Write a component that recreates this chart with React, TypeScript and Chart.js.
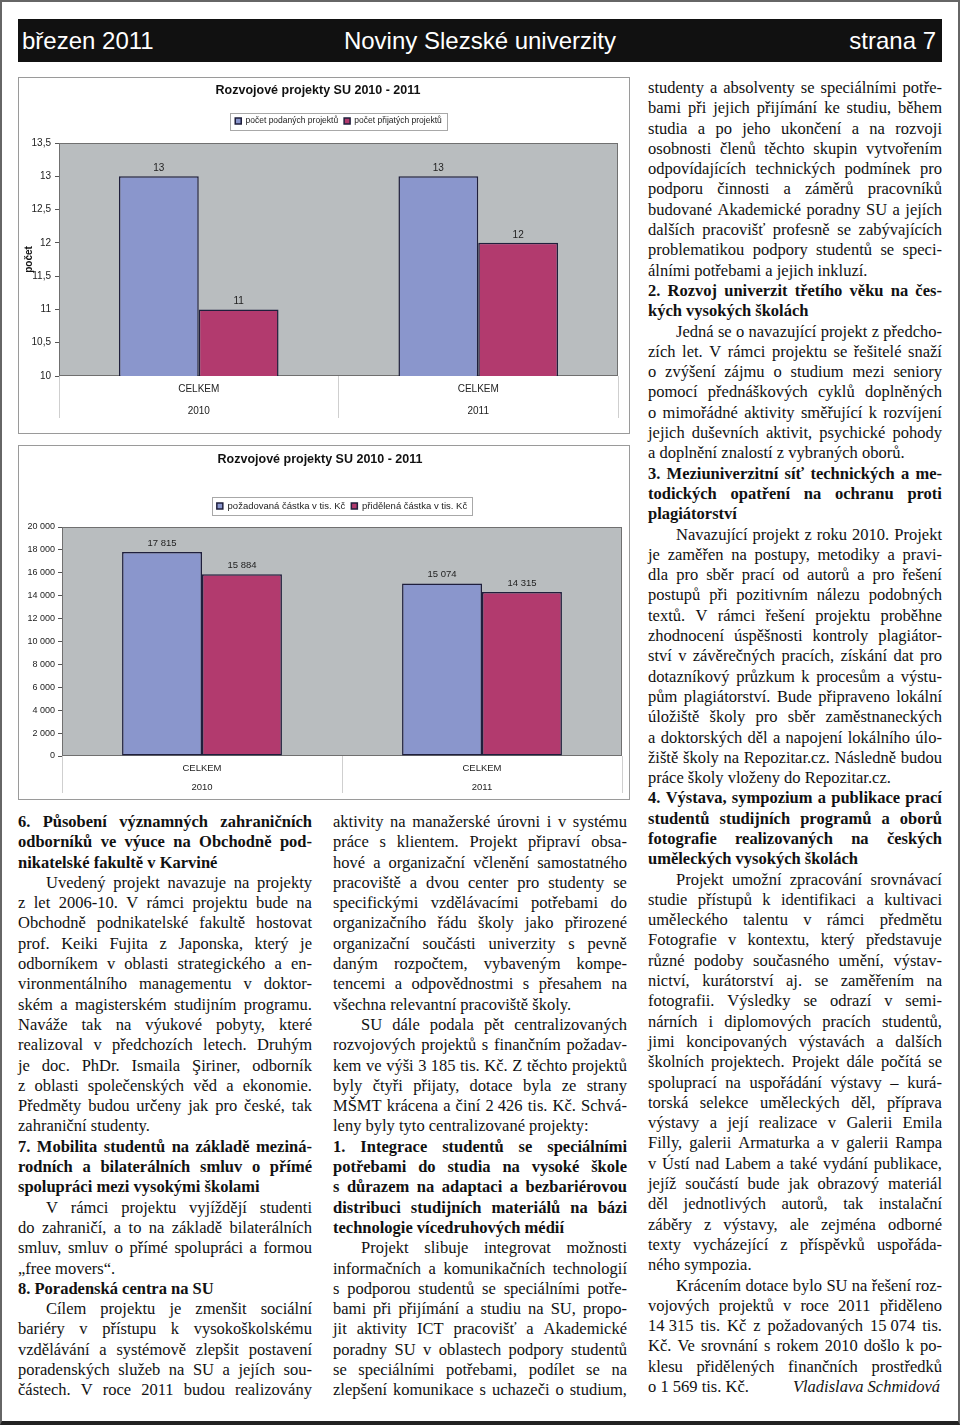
import React, { useEffect, useRef } from 'react';
import { Chart, registerables } from 'chart.js';

Chart.register(...registerables);

// ---------------- chart data ----------------
const categoryLabels = ['CELKEM', 'CELKEM'];
const yearLabels = ['2010', '2011'];

const chartTitle = 'Rozvojové projekty SU 2010 - 2011';

const countSeriesNames = ['počet podaných projektů', 'počet přijatých projektů'];
const submittedCounts = [13, 13];
const acceptedCounts = [11, 12];
const countTickLabels = ['10', '10,5', '11', '11,5', '12', '12,5', '13', '13,5'];
const countAxisTitle = 'počet';

const amountSeriesNames = ['požadovaná částka v tis. Kč', 'přidělená částka v tis. Kč'];
const requestedAmounts = [17815, 15074];
const allocatedAmounts = [15884, 14315];
const amountTickLabels = ['0', '2 000', '4 000', '6 000', '8 000', '10 000', '12 000', '14 000', '16 000', '18 000', '20 000'];

// ---------------- styles ----------------
const SANS = '"Liberation Sans", Arial, Helvetica, sans-serif';
const SERIF = '"Liberation Serif", "Times New Roman", Times, serif';
const BLUE = '#8a96cc';
const RED = '#b23a6e';
const EDGE = '#1f1f3c';
const PLOT_BG = '#b9bdbf';

const withSpaces = (v: number) => String(v).replace(/\B(?=(\d{3})+(?!\d))/g, ' ');

type Spec = {
  width: number; height: number;
  titlePadTop: number; titlePadBottom: number;
  legendCenterY: number; legendPad: number; legendFont: number;
  names: string[]; a: number[]; b: number[];
  yMin: number; yMax: number; yStep: number; yTicks: string[]; yFont: number; yTickPad: number;
  yWidth: number; yTitle?: string;
  padRight: number;
  xHeight: number; xTick: number; xPad: number; xFont: number; xLine: number;
  labelFont: number; labelOffset: number; fmt: (v: number) => string;
};

function buildConfig(s: Spec): any {
  const look = {
    id: 'excelLook',
    afterUpdate(chart: any) {
      const lg = chart.legend;
      if (!lg) return;
      const ca = chart.chartArea;
      const H = Math.max(s.legendFont, 6);
      const dy = s.legendCenterY - (lg.top + s.legendPad + H / 2);
      lg.top += dy;
      lg.bottom += dy;
      lg.left = ca.left;
      lg.right = ca.right;
      lg.width = ca.right - ca.left;
    },
    beforeDraw(chart: any) {
      const { ctx, width, height, chartArea: ca } = chart;
      ctx.save();
      ctx.fillStyle = '#ffffff';
      ctx.fillRect(0, 0, width, height);
      ctx.fillStyle = PLOT_BG;
      ctx.fillRect(ca.left, ca.top, ca.right - ca.left, ca.bottom - ca.top);
      ctx.strokeStyle = '#9a9a9a';
      ctx.lineWidth = 1;
      ctx.strokeRect(0.5, 0.5, width - 1, height - 1);
      ctx.restore();
    },
    beforeDatasetsDraw(chart: any) {
      const { ctx, chartArea: ca } = chart;
      ctx.save();
      ctx.strokeStyle = '#707070';
      ctx.lineWidth = 1;
      ctx.strokeRect(Math.round(ca.left) + 0.5, Math.round(ca.top) + 0.5, Math.round(ca.right - ca.left) - 1, Math.round(ca.bottom - ca.top) - 1);
      ctx.restore();
    },
    afterDatasetsDraw(chart: any) {
      const { ctx } = chart;
      ctx.save();
      ctx.fillStyle = '#222';
      ctx.font = `${s.labelFont}px ${SANS}`;
      ctx.textAlign = 'center';
      ctx.textBaseline = 'middle';
      chart.data.datasets.forEach((ds: any, di: number) => {
        const meta = chart.getDatasetMeta(di);
        meta.data.forEach((el: any, k: number) => {
          const { x, y } = el.getProps(['x', 'y'], true);
          ctx.fillText(s.fmt(ds.data[k]), x, y - s.labelOffset);
        });
      });
      ctx.restore();
    },
    afterDraw(chart: any) {
      const lg = chart.legend;
      if (!lg || !lg.lineWidths) return;
      const { ctx } = chart;
      const H = Math.max(s.legendFont, 6);
      const T = lg.lineWidths[0] - s.legendPad;
      const cx = (lg.left + lg.right) / 2;
      const y0 = lg.top + s.legendPad;
      ctx.save();
      ctx.strokeStyle = '#a8a8a8';
      ctx.lineWidth = 1;
      ctx.strokeRect(Math.round(cx - T / 2 - 5) + 0.5, Math.round(y0 - 4) + 0.5, Math.round(T + 10), Math.round(H + 8));
      ctx.restore();
    },
  };

  return {
    type: 'bar',
    data: {
      labels: categoryLabels.map((c, i) => [c, yearLabels[i]]),
      datasets: [
        { label: s.names[0], data: s.a, backgroundColor: BLUE, borderColor: EDGE, borderWidth: 1.5, borderSkipped: false },
        { label: s.names[1], data: s.b, backgroundColor: RED, borderColor: EDGE, borderWidth: 1.5, borderSkipped: false },
      ],
    },
    plugins: [look],
    options: {
      responsive: false,
      animation: false,
      devicePixelRatio: 1,
      events: [],
      layout: { padding: { left: 0, right: s.padRight, top: 0, bottom: 0 } },
      datasets: { bar: { categoryPercentage: 0.571, barPercentage: 1 } },
      plugins: {
        title: {
          display: true,
          text: chartTitle,
          color: '#111',
          font: { family: SANS, size: 12.5, weight: 'bold', lineHeight: 1.2 },
          padding: { top: s.titlePadTop, bottom: s.titlePadBottom },
        },
        legend: {
          display: true,
          position: 'top',
          labels: {
            boxWidth: 6,
            boxHeight: 6,
            padding: s.legendPad,
            color: '#222',
            font: { family: SANS, size: s.legendFont },
          },
        },
        tooltip: { enabled: false },
      },
      scales: {
        x: {
          type: 'category',
          offset: true,
          grid: { offset: true, drawOnChartArea: false, drawTicks: true, tickLength: s.xTick, color: '#cfcfcf', lineWidth: 1 },
          border: { display: false },
          ticks: {
            autoSkip: false,
            maxRotation: 0,
            minRotation: 0,
            padding: s.xPad,
            color: '#222',
            font: { family: SANS, size: s.xFont, lineHeight: s.xLine / s.xFont },
          },
          afterFit: (sc: any) => { sc.height = s.xHeight; },
        },
        y: {
          type: 'linear',
          min: s.yMin,
          max: s.yMax,
          grid: { drawOnChartArea: false, drawTicks: true, tickLength: 4, color: '#555' },
          border: { display: false },
          ticks: {
            stepSize: s.yStep,
            padding: s.yTickPad,
            color: '#222',
            font: { family: SANS, size: s.yFont },
            callback: (_v: any, i: number) => s.yTicks[i],
          },
          title: s.yTitle
            ? { display: true, text: s.yTitle, color: '#111', font: { family: SANS, size: 10, weight: 'bold', lineHeight: 1.2 }, padding: { top: 5, bottom: 0 } }
            : { display: false },
          afterFit: (sc: any) => { sc.width = s.yWidth; },
        },
      },
    },
  };
}

const countSpec: Spec = {
  width: 612, height: 357,
  titlePadTop: 6.5, titlePadBottom: 20,
  legendCenterY: 44, legendPad: 6, legendFont: 8.5,
  names: countSeriesNames, a: submittedCounts, b: acceptedCounts,
  yMin: 10, yMax: 13.5, yStep: 0.5, yTicks: countTickLabels, yFont: 10, yTickPad: 4,
  yWidth: 41, yTitle: countAxisTitle,
  padRight: 12,
  xHeight: 58, xTick: 42, xPad: -40, xFont: 10, xLine: 22,
  labelFont: 10, labelOffset: 8, fmt: (v) => String(v),
};

const amountSpec: Spec = {
  width: 612, height: 355,
  titlePadTop: 7.5, titlePadBottom: 34,
  legendCenterY: 61, legendPad: 6, legendFont: 9.5,
  names: amountSeriesNames, a: requestedAmounts, b: allocatedAmounts,
  yMin: 0, yMax: 20000, yStep: 2000, yTicks: amountTickLabels, yFont: 9, yTickPad: 3,
  yWidth: 44,
  padRight: 8,
  xHeight: 44, xTick: 37, xPad: -34.5, xFont: 9.5, xLine: 19,
  labelFont: 9.5, labelOffset: 9, fmt: withSpaces,
};

function ChartPanel({ spec, left, top }: { spec: Spec; left: number; top: number }) {
  const ref = useRef<HTMLCanvasElement>(null);
  useEffect(() => {
    const chart = new Chart(ref.current as HTMLCanvasElement, buildConfig(spec));
    return () => chart.destroy();
  }, [spec]);
  return (
    <canvas
      ref={ref}
      width={spec.width}
      height={spec.height}
      style={{ position: 'absolute', left, top, width: spec.width, height: spec.height }}
    />
  );
}

// ---------------- article text ----------------
type Ln = { t: string; b?: boolean; i?: boolean; last?: boolean; sig?: string };
const j = (t: string): Ln => ({ t });
const l = (t: string): Ln => ({ t, last: true });
const bj = (t: string): Ln => ({ t, b: true });
const bl = (t: string): Ln => ({ t, b: true, last: true });
const ij = (t: string): Ln => ({ t, i: true });

const leftLines: Ln[] = [
  bj('6. Působení významných zahraničních'),
  bj('odborníků ve výuce na Obchodně pod-'),
  bl('nikatelské fakultě v Karviné'),
  ij('Uvedený projekt navazuje na projekty'),
  j('z let 2006-10. V rámci projektu bude na'),
  j('Obchodně podnikatelské fakultě hostovat'),
  j('prof. Keiki Fujita z Japonska, který je'),
  j('odborníkem v oblasti strategického a en-'),
  j('vironmentálního managementu v doktor-'),
  j('ském a magisterském studijním programu.'),
  j('Naváže tak na výukové pobyty, které'),
  j('realizoval v předchozích letech. Druhým'),
  j('je doc. PhDr. Ismaila Şiriner, odborník'),
  j('z oblasti společenských věd a ekonomie.'),
  j('Předměty budou určeny jak pro české, tak'),
  l('zahraniční studenty.'),
  bj('7. Mobilita studentů na základě meziná-'),
  bj('rodních a bilaterálních smluv o přímé'),
  bl('spolupráci mezi vysokými školami'),
  ij('V rámci projektu vyjíždějí studenti'),
  j('do zahraničí, a to na základě bilaterálních'),
  j('smluv, smluv o přímé spolupráci a formou'),
  l('„free movers“.'),
  bl('8. Poradenská centra na SU'),
  ij('Cílem projektu je zmenšit sociální'),
  j('bariéry v přístupu k vysokoškolskému'),
  j('vzdělávání a systémově zlepšit postavení'),
  j('poradenských služeb na SU a jejích sou-'),
  j('částech. V roce 2011 budou realizovány'),
];

const middleLines: Ln[] = [
  j('aktivity na manažerské úrovni i v systému'),
  j('práce s klientem. Projekt připraví obsa-'),
  j('hové a organizační včlenění samostatného'),
  j('pracoviště a dvou center pro studenty se'),
  j('specifickými vzdělávacími potřebami do'),
  j('organizačního řádu školy jako přirozené'),
  j('organizační součásti univerzity s pevně'),
  j('daným rozpočtem, vybaveným kompe-'),
  j('tencemi a odpovědnostmi s přesahem na'),
  l('všechna relevantní pracoviště školy.'),
  ij('SU dále podala pět centralizovaných'),
  j('rozvojových projektů s finančním požadav-'),
  j('kem ve výši 3\u00a0185 tis. Kč. Z těchto projektů'),
  j('byly čtyři přijaty, dotace byla ze strany'),
  j('MŠMT krácena a činí 2\u00a0426 tis. Kč. Schvá-'),
  l('leny byly tyto centralizované projekty:'),
  bj('1. Integrace studentů se speciálními'),
  bj('potřebami do studia na vysoké škole'),
  bj('s důrazem na adaptaci a bezbariérovou'),
  bj('distribuci studijních materiálů na bázi'),
  bl('technologie vícedruhových médií'),
  ij('Projekt slibuje integrovat možnosti'),
  j('informačních a komunikačních technologií'),
  j('s podporou studentů se speciálními potře-'),
  j('bami při přijímání a studiu na SU, propo-'),
  j('jit aktivity ICT pracovišť a Akademické'),
  j('poradny SU v oblastech podpory studentů'),
  j('se speciálními potřebami, podílet se na'),
  j('zlepšení komunikace s uchazeči o studium,'),
];

const rightLines: Ln[] = [
  j('studenty a absolventy se speciálními potře-'),
  j('bami při jejich přijímání ke studiu, během'),
  j('studia a po jeho ukončení a na rozvoji'),
  j('osobnosti členů těchto skupin vytvořením'),
  j('odpovídajících technických podmínek pro'),
  j('podporu činnosti a záměrů pracovníků'),
  j('budované Akademické poradny SU a jejích'),
  j('dalších pracovišť profesně se zabývajících'),
  j('problematikou podpory studentů se speci-'),
  l('álními potřebami a jejich inkluzí.'),
  bj('2. Rozvoj univerzit třetího věku na čes-'),
  bl('kých vysokých školách'),
  ij('Jedná se o navazující projekt z předcho-'),
  j('zích let. V rámci projektu se řešitelé snaží'),
  j('o zvýšení zájmu o studium mezi seniory'),
  j('pomocí přednáškových cyklů doplněných'),
  j('o mimořádné aktivity směřující k rozvíjení'),
  j('jejich duševních aktivit, psychické pohody'),
  l('a doplnění znalostí z vybraných oborů.'),
  bj('3. Meziuniverzitní síť technických a me-'),
  bj('todických opatření na ochranu proti'),
  bl('plagiátorství'),
  ij('Navazující projekt z roku 2010. Projekt'),
  j('je zaměřen na postupy, metodiky a pravi-'),
  j('dla pro sběr prací od autorů a pro řešení'),
  j('postupů při pozitivním nálezu podobných'),
  j('textů. V rámci řešení projektu proběhne'),
  j('zhodnocení úspěšnosti kontroly plagiátor-'),
  j('ství v závěrečných pracích, získání dat pro'),
  j('dotazníkový průzkum k procesům a výstu-'),
  j('pům plagiátorství. Bude připraveno lokální'),
  j('úložiště školy pro sběr zaměstnaneckých'),
  j('a doktorských děl a napojení lokálního úlo-'),
  j('žiště školy na Repozitar.cz. Následně budou'),
  l('práce školy vloženy do Repozitar.cz.'),
  bj('4. Výstava, sympozium a publikace prací'),
  bj('studentů studijních programů a oborů'),
  bj('fotografie realizovaných na českých'),
  bl('uměleckých vysokých školách'),
  ij('Projekt umožní zpracování srovnávací'),
  j('studie přístupů k identifikaci a kultivaci'),
  j('uměleckého talentu v rámci předmětu'),
  j('Fotografie v kontextu, který představuje'),
  j('různé podoby současného umění, výstav-'),
  j('nictví, kurátorství aj. se zaměřením na'),
  j('fotografii. Výsledky se odrazí v semi-'),
  j('nárních i diplomových pracích studentů,'),
  j('jimi koncipovaných výstavách a dalších'),
  j('školních projektech. Projekt dále počítá se'),
  j('spoluprací na uspořádání výstavy – kurá-'),
  j('torská selekce uměleckých děl, příprava'),
  j('výstavy a její realizace v Galerii Emila'),
  j('Filly, galerii Armaturka a v galerii Rampa'),
  j('v Ústí nad Labem a také vydání publikace,'),
  j('jejíž součástí bude jak obrazový materiál'),
  j('děl jednotlivých autorů, tak instalační'),
  j('záběry z výstavy, ale zejména odborné'),
  j('texty vycházející z příspěvků uspořáda-'),
  l('ného sympozia.'),
  ij('Krácením dotace bylo SU na řešení roz-'),
  j('vojových projektů v roce 2011 přiděleno'),
  j('14\u00a0315 tis. Kč z požadovaných 15\u00a0074 tis.'),
  j('Kč. Ve srovnání s rokem 2010 došlo k po-'),
  j('klesu přidělených finančních prostředků'),
  { t: 'o 1\u00a0569 tis. Kč.', sig: 'Vladislava Schmidová' },
];

const LINE_H = 20.31;

function TextLine({ ln }: { ln: Ln }) {
  const base: React.CSSProperties = {
    height: LINE_H,
    lineHeight: `${LINE_H}px`,
    display: 'flex',
    whiteSpace: 'pre',
    fontWeight: ln.b ? 700 : 400,
    paddingLeft: ln.i ? 28 : 0,
    boxSizing: 'border-box',
  };
  if (ln.sig) {
    return (
      <div style={{ ...base, justifyContent: 'space-between' }}>
        <span>{ln.t}</span>
        <span style={{ fontStyle: 'italic', paddingRight: 2 }}>{ln.sig}</span>
      </div>
    );
  }
  if (ln.last) {
    return (
      <div style={{ ...base, justifyContent: 'flex-start' }}>
        <span>{ln.t}</span>
      </div>
    );
  }
  const words = ln.t.split(' ');
  return (
    <div style={{ ...base, justifyContent: 'space-between' }}>
      {words.map((w, k) => (
        <span key={k}>{w}</span>
      ))}
    </div>
  );
}

function Column({ lines, left, top }: { lines: Ln[]; left: number; top: number }) {
  return (
    <div
      style={{
        position: 'absolute',
        left,
        top,
        width: 294,
        fontFamily: SERIF,
        fontSize: 16.5,
        color: '#111',
      }}
    >
      {lines.map((ln, k) => (
        <TextLine key={k} ln={ln} />
      ))}
    </div>
  );
}

export default function App() {
  const headerText: React.CSSProperties = {
    position: 'absolute',
    top: 0,
    lineHeight: '43px',
    fontFamily: SANS,
    fontSize: 24,
    color: '#ffffff',
    whiteSpace: 'nowrap',
  };
  return (
    <div
      style={{
        position: 'absolute',
        left: 0,
        top: 0,
        width: 960,
        height: 1425,
        background: '#ffffff',
        overflow: 'hidden',
      }}
    >
      <div
        style={{
          position: 'absolute',
          left: 0,
          top: 0,
          width: 960,
          height: 1425,
          boxSizing: 'border-box',
          borderTop: '2px solid #666',
          borderLeft: '2px solid #666',
          borderRight: '2px solid #666',
          borderBottom: '4px solid #222',
        }}
      />
      <div style={{ position: 'absolute', left: 18, top: 19, width: 924, height: 43, background: '#111' }}>
        <span style={{ ...headerText, left: 4 }}>březen 2011</span>
        <span style={{ ...headerText, left: 0, width: 924, textAlign: 'center' }}>Noviny Slezské univerzity</span>
        <span style={{ ...headerText, right: 6 }}>strana 7</span>
      </div>

      <ChartPanel spec={countSpec} left={18} top={77} />
      <ChartPanel spec={amountSpec} left={18} top={445} />

      <Column lines={leftLines} left={18} top={812} />
      <Column lines={middleLines} left={333} top={812} />
      <Column lines={rightLines} left={648} top={78} />
    </div>
  );
}
